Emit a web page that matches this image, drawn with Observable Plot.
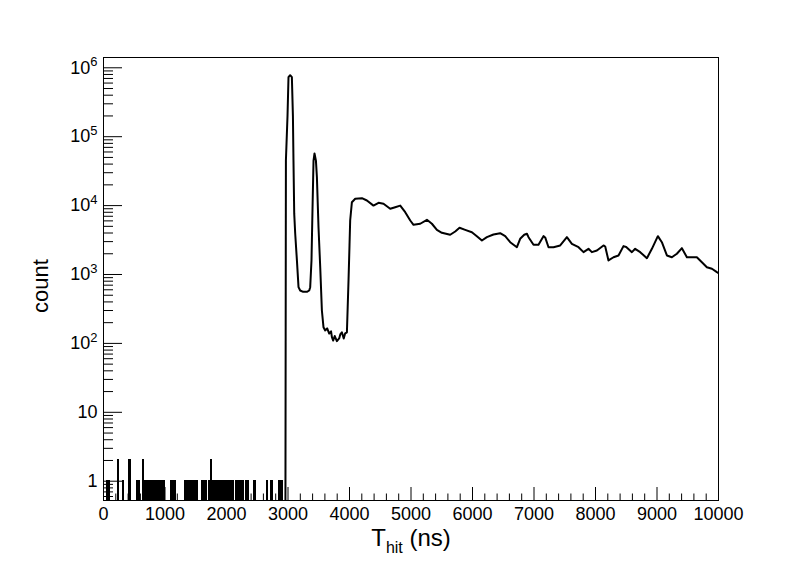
<!DOCTYPE html>
<html><head><meta charset="utf-8">
<script src="https://cdn.jsdelivr.net/npm/d3@7"></script>
<script src="https://cdn.jsdelivr.net/npm/@observablehq/plot@0.6"></script>
<style>body{margin:0;background:#fff}</style>
</head><body><div id="chart"></div>
<script>
// ---- data ----
const mainT = [2958, 2966, 2992, 3008, 3035, 3063, 3080, 3089, 3101, 3117,
  3145, 3171, 3198, 3247, 3307, 3345, 3361, 3382, 3398, 3415,
  3431, 3454, 3470, 3496, 3524, 3551, 3577, 3605, 3637, 3670,
  3700, 3714, 3735, 3760, 3795, 3832, 3850, 3876, 3906, 3930, 3958, 3984, 4000, 4011,
  4039, 4093, 4202, 4283, 4390, 4472, 4553, 4662, 4743, 4825,
  4906, 4988, 5041, 5150, 5259, 5340, 5421, 5502, 5637, 5719,
  5789, 5881, 5990, 6071, 6153, 6234, 6341, 6450, 6532, 6613,
  6722, 6775, 6841, 6885, 6911, 6992, 7073, 7154, 7182, 7236,
  7317, 7426, 7535, 7616, 7724, 7805, 7886, 7941, 8023, 8130,
  8158, 8211, 8293, 8374, 8455, 8499, 8592, 8645, 8727, 8836,
  8917, 9014, 9079, 9161, 9242, 9323, 9405, 9486, 9567, 9648,
  9730, 9811, 9893, 9974, 10000];
const mainCount = [0.3, 45000, 200000, 730000, 780000, 730000, 200000, 45000, 7700, 3940,
  1600, 655, 586, 560, 560, 586, 655, 1600, 8500, 45000,
  57000, 45000, 25800, 4860, 1276, 300, 172, 154, 165, 139,
  150, 123, 110, 128, 108, 118, 135, 145, 118, 140, 145, 818, 2630, 6080,
  11200, 12560, 12800, 11860, 10000, 10990, 10620, 8980, 9480, 10000,
  8020, 6080, 5260, 5450, 6220, 5450, 4450, 4030, 3770, 4210,
  4760, 4450, 4110, 3600, 3110, 3480, 3810, 3980, 3600, 2940,
  2490, 3300, 3770, 3900, 3480, 2700, 2700, 3600, 3450, 2490,
  2490, 2640, 3480, 2790, 2490, 2110, 2360, 2110, 2230, 2640,
  2550, 1600, 1780, 1890, 2580, 2510, 2110, 2360, 2110, 1725,
  2360, 3600, 2940, 1890, 1780, 2000, 2410, 1780, 1780, 1780,
  1510, 1276, 1210, 1080, 1050];
// early noise hits: bin starts (20 ns bins) with one count and with two counts
const noiseOneT = [60, 80, 320, 540, 560, 580,
  660, 680, 700, 720, 740, 760, 780, 800,
  840, 860, 880, 900, 940, 960, 980, 1100, 1120, 1140, 1160,
  1320, 1340, 1360, 1380, 1400, 1420, 1440, 1460, 1480, 1500, 1520, 1600, 1640, 1660,
  1720, 1760, 1780, 1800, 1820, 1840, 1880, 1900, 1920, 1940, 1960, 1980, 2000, 2020, 2060, 2080, 2100,
  2160, 2180, 2200, 2220, 2240, 2260, 2320, 2340, 2440, 2460, 2660, 2720, 2740, 2860, 2880, 2900];
const noiseTwoT = [240, 420, 640, 1740];
const noiseBinWidth = 20;

const xMajorTicks = [0, 1000, 2000, 3000, 4000, 5000, 6000, 7000, 8000, 9000, 10000];
const xTickLabels = ["0", "1000", "2000", "3000", "4000", "5000", "6000", "7000", "8000", "9000", "10000"];
const yMajorTicks = [1, 10, 100, 1000, 10000, 100000, 1000000];
const yTickLabels = ["1", "10", "10^2", "10^3", "10^4", "10^5", "10^6"];
const xTitle = "T_hit (ns)";
const yTitle = "count";

// ---- derived tables ----
const mainRows = mainT.map((t, i) => ({t, c: mainCount[i]}));
const noiseRows = [
  ...noiseOneT.map(t => ({t, c: 1})),
  ...noiseTwoT.map(t => ({t, c: 2}))
];
const xMinor = d3.range(0, 10001, 200).filter(v => v % 1000 !== 0);
const yMinor = [];
for (let e = -1; e <= 6; e++) for (let k = 2; k <= 9; k++) {
  const v = k * Math.pow(10, e);
  if (v >= 0.525 && v <= 1.41e6) yMinor.push(v);
}
const Y0 = 0.525;

const font = "'Liberation Sans', Arial, Helvetica, sans-serif";

const plot = Plot.plot({
  width: 798, height: 576,
  marginLeft: 103, marginRight: 80, marginTop: 57, marginBottom: 76,
  style: {fontFamily: font, background: "white", color: "black"},
  x: {domain: [0, 10000], axis: null, label: null},
  y: {type: "log", domain: [Y0, 1.41e6], axis: null, label: null},
  marks: [
    Plot.rectY(noiseRows, {x1: "t", x2: d => d.t + noiseBinWidth, y1: Y0, y2: "c",
      fill: "black", stroke: "black", strokeWidth: 1, shapeRendering: "crispEdges", clip: true}),
    Plot.line(mainRows, {x: "t", y: "c", stroke: "black", strokeWidth: 2, clip: true}),
    Plot.frame({stroke: "black", strokeWidth: 1}),
    // x ticks (inward)
    Plot.axisX(xMajorTicks, {anchor: "bottom", label: null, tickSize: -13, fill: "none", stroke: "black"}),
    Plot.axisX(xMinor, {anchor: "bottom", label: null, tickSize: -6.5, fill: "none", stroke: "black"}),
    Plot.axisX(xMajorTicks, {anchor: "bottom", label: null, tickSize: 0, tickPadding: 7, fontSize: 18,
      tickFormat: d => xTickLabels[xMajorTicks.indexOf(d)]}),
    // y ticks (inward)
    Plot.axisY(yMajorTicks, {anchor: "left", label: null, tickSize: -19, fill: "none", stroke: "black"}),
    Plot.axisY(yMinor, {anchor: "left", label: null, tickSize: -10, fill: "none", stroke: "black"}),
    Plot.axisY(yMajorTicks, {anchor: "left", label: null, tickSize: 0, tickPadding: 6, fontSize: 18,
      tickFormat: d => yTickLabels[yMajorTicks.indexOf(d)]}),
    // titles
    Plot.text([xTitle], {frameAnchor: "bottom", dy: 45, fontSize: 24, fill: "black"}),
    Plot.text([yTitle], {frameAnchor: "left", textAnchor: "middle", dx: -63, dy: 7, rotate: -90, fontSize: 22, fill: "black"})
  ]
});

// superscripts for the exponent labels, subscript for the x title
d3.select(plot).selectAll("text").each(function() {
  const s = this.textContent;
  if (/^10\^\d$/.test(s)) {
    const [b, e] = s.split("^");
    const t = d3.select(this); t.text(null);
    t.append("tspan").text(b);
    t.append("tspan").attr("dy", "-0.55em").attr("font-size", "0.72em").text(e);
  } else if (s === xTitle) {
    const t = d3.select(this); t.text(null);
    t.append("tspan").text("T");
    t.append("tspan").attr("dy", "7").attr("font-size", "16px").text("hit");
    t.append("tspan").attr("dy", "-7").text(" (ns)");
  }
});
document.getElementById("chart").appendChild(plot);
</script>
</body></html>
